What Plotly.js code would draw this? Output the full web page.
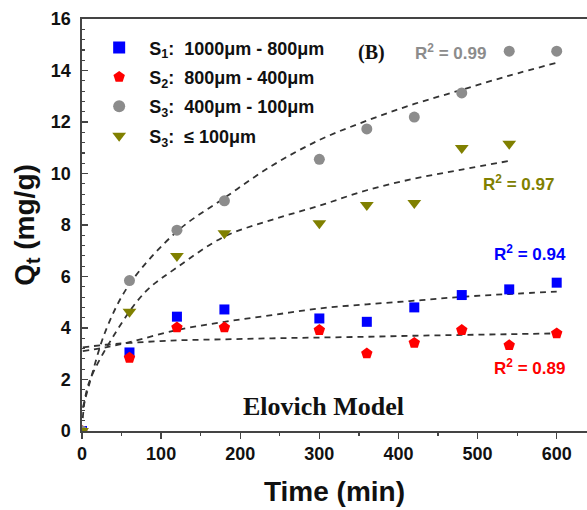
<!DOCTYPE html>
<html>
<head>
<meta charset="utf-8">
<script src="https://cdn.plot.ly/plotly-3.0.1.min.js"></script>
<style>html,body{margin:0;padding:0;background:#fff;}#chart{width:587px;height:510px;}</style>
</head>
<body>
<div id="chart"></div>
<script>
// ---- data ----
var timeA = [0, 60, 120, 180, 300, 360, 420, 480, 540, 600];
var s1Vals = [0, 3.05, 4.44, 4.72, 4.37, 4.24, 4.80, 5.28, 5.50, 5.76];
var s2Vals = [0, 2.84, 4.02, 4.02, 3.92, 3.01, 3.42, 3.92, 3.33, 3.79];
var s3Vals = [0, 5.84, 7.80, 8.94, 10.55, 11.73, 12.19, 13.13, 14.75, 14.75];
var timeB = [0, 60, 120, 180, 300, 360, 420, 480, 540];
var s4Vals = [0, 4.63, 6.80, 7.68, 8.07, 8.78, 8.85, 10.99, 11.16];

// fitted Elovich curves
var fitT1 = [1, 30, 60, 120, 180, 240, 300, 360, 420, 480, 540, 600];
var fit1 = [3.10, 3.25, 3.45, 3.92, 4.24, 4.50, 4.76, 4.92, 5.06, 5.21, 5.32, 5.41];
var fitT2 = [1, 30, 60, 120, 180, 240, 300, 360, 420, 480, 540, 600];
var fit2 = [3.25, 3.35, 3.42, 3.52, 3.56, 3.60, 3.63, 3.66, 3.70, 3.73, 3.76, 3.79];
var fitT3 = [1, 10, 30, 60, 120, 180, 240, 300, 360, 420, 480, 540, 600];
var fit3 = [0.9, 1.9, 3.9, 5.7, 7.75, 9.05, 10.3, 11.3, 12.05, 12.7, 13.25, 13.8, 14.3];
var fitT4 = [1, 8, 40, 80, 120, 180, 240, 300, 360, 420, 480, 540];
var fit4 = [0.5, 1.8, 3.7, 5.4, 6.35, 7.55, 8.2, 8.75, 9.35, 9.8, 10.15, 10.49];

var names = ['<b>\u00a0\u00a0S<sub>1</sub>:\u00a0 1000μm - 800μm</b>',
             '<b>\u00a0\u00a0S<sub>2</sub>:\u00a0 800μm - 400μm</b>',
             '<b>\u00a0\u00a0S<sub>3</sub>:\u00a0 400μm - 100μm</b>',
             '<b>\u00a0\u00a0S<sub>3</sub>:\u00a0 ≤ 100μm</b>'];
var r2Text = ['<b>R<sup>2</sup> = 0.94</b>', '<b>R<sup>2</sup> = 0.89</b>',
              '<b>R<sup>2</sup> = 0.99</b>', '<b>R<sup>2</sup> = 0.97</b>'];

var colors = ['#0000ff', '#ff0000', '#8c8c8c', '#808000'];
var fitLine = {color: '#333333', width: 1.8, dash: '6px,5px', shape: 'spline'};

function fitTrace(x, y) {
  return {x: x, y: y, type: 'scatter', mode: 'lines', line: fitLine,
          showlegend: false, hoverinfo: 'skip'};
}
function ptTrace(x, y, name, color, symbol, size, grp) {
  return {x: x, y: y, type: 'scatter', mode: 'markers', name: name,
          legendgroup: grp,
          marker: {color: color, symbol: symbol, size: size, line: {width: 0}}};
}

var data = [
  fitTrace(fitT1, fit1), fitTrace(fitT2, fit2), fitTrace(fitT3, fit3), fitTrace(fitT4, fit4),
  ptTrace(timeA, s1Vals, names[0], colors[0], 'square', 10, 'a'),
  ptTrace(timeA, s2Vals, names[1], colors[1], 'pentagon', 12, 'b'),
  ptTrace(timeA, s3Vals, names[2], colors[2], 'circle', 11, 'c'),
  ptTrace(timeB, s4Vals, names[3], colors[3], 'triangle-down', 12, 'd')
];

var SANS = 'Liberation Sans, Arial, sans-serif';
var tickFont = {family: SANS, size: 18, color: '#111', weight: 'bold'};
var layout = {
  width: 587, height: 510,
  margin: {l: 82, r: 0, t: 19, b: 79},
  paper_bgcolor: '#fff', plot_bgcolor: '#fff',
  font: {family: SANS, color: '#111'},
  xaxis: {
    range: [0, 638.3], showgrid: false, zeroline: false,
    showline: true, linecolor: '#444', linewidth: 1.6, mirror: true,
    ticks: 'outside', ticklen: 6, tickwidth: 1.4, tickcolor: '#444',
    tickvals: [0, 100, 200, 300, 400, 500, 600],
    minor: {ticks: 'outside', ticklen: 3, tickwidth: 1.2, tickcolor: '#444', dtick: 50, tick0: 0},
    tickfont: tickFont,
    title: {text: '<b>Time (min)</b>', font: {family: SANS, size: 28, color: '#111'}, standoff: 18}
  },
  yaxis: {
    range: [0, 16], showgrid: false, zeroline: false,
    showline: true, linecolor: '#444', linewidth: 1.6, mirror: false,
    ticks: 'inside', ticklen: 6, tickwidth: 1.4, tickcolor: '#444',
    dtick: 2, tick0: 0,
    minor: {ticks: 'inside', ticklen: 3, tickwidth: 1.2, tickcolor: '#444', dtick: 0.4, tick0: 0},
    tickfont: tickFont, ticklabelstandoff: 6,
    title: {text: '<b>Q<sub>t</sub> (mg/g)</b>', font: {family: SANS, size: 28, color: '#111'}, standoff: 8}
  },
  legend: {
    x: 0.034, y: 0.975, xanchor: 'left', yanchor: 'top',
    bgcolor: 'rgba(0,0,0,0)', borderwidth: 0,
    font: {family: SANS, size: 18, color: '#111'},
    traceorder: 'grouped', tracegroupgap: 3, itemsizing: 'constant'
  },
  annotations: [
    {x: 566, y: 6.91, text: r2Text[0], font: {size: 17, color: colors[0]}},
    {x: 565.6, y: 2.49, text: r2Text[1], font: {size: 17, color: colors[1]}},
    {x: 466, y: 14.73, text: r2Text[2], font: {size: 17, color: colors[2]}},
    {x: 551.7, y: 9.64, text: r2Text[3], font: {size: 17, color: colors[3]}},
    {x: 366, y: 14.7, text: '<b>(B)</b>', font: {family: 'Liberation Serif, Times New Roman, serif', size: 20, color: '#111'}},
    {x: 305.7, y: 0.96, text: '<b>Elovich Model</b>', font: {family: 'Liberation Serif, Times New Roman, serif', size: 26, color: '#111'}}
  ].map(function (a) {
    a.xref = 'x'; a.yref = 'y'; a.showarrow = false; a.xanchor = 'center'; a.yanchor = 'middle';
    a.font.family = a.font.family || SANS;
    return a;
  })
};

Plotly.newPlot('chart', data, layout, {displayModeBar: false, staticPlot: true});
</script>
</body>
</html>
